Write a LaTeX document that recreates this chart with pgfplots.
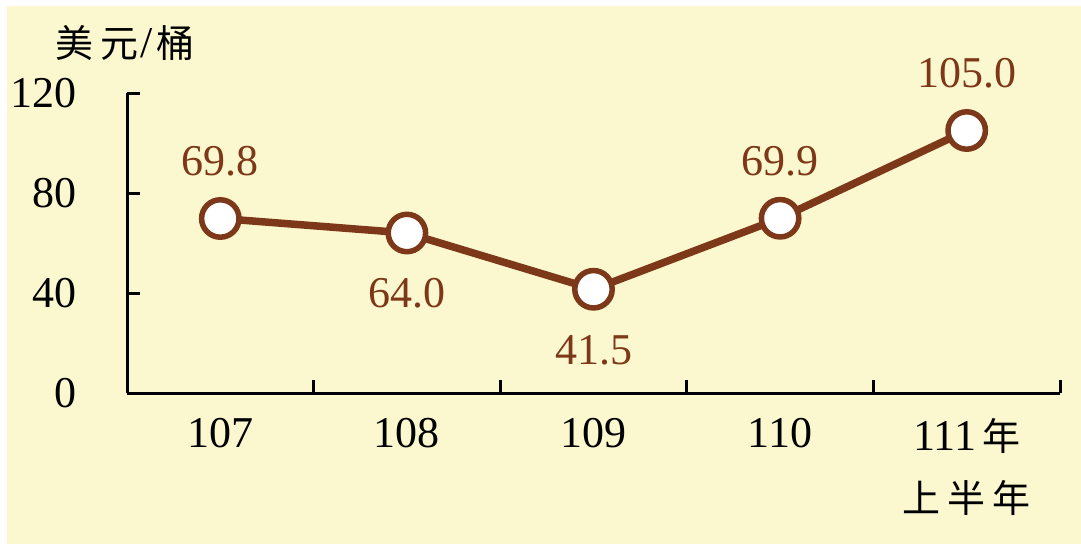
\documentclass[border=0pt]{standalone}
\usepackage{fontspec}
\setmainfont{Liberation Serif}
\newfontfamily\cjkfont[LetterSpace=18]{Noto Sans CJK TC}
\newfontfamily\cjkplain{Noto Sans CJK TC}
\usepackage{pgfplots}
\pgfplotsset{compat=1.18}
\definecolor{bg}{RGB}{251,247,206}
\definecolor{brn}{RGB}{124,56,24}
\newcommand\cjtext[1]{{\cjkfont\fontsize{38bp}{62bp}\selectfont #1}}
\newcommand\cjp[1]{{\cjkplain\fontsize{38bp}{62bp}\selectfont #1}}
\begin{document}
\begin{tikzpicture}[x=1bp,y=1bp]
\useasboundingbox (0,0) rectangle (1081,-544);
\fill[bg] (7,-6) rectangle (1081,-544);
\begin{axis}[
  at={(127bp,-393bp)}, anchor=south west,
  scale only axis, width=933bp, height=300bp,
  xmin=-0.5, xmax=4.5, ymin=0, ymax=120,
  axis lines*=left,
  axis line style={line width=3bp, black},
  tick align=inside,
  xtick pos=left, ytick pos=left,
  ytick={0,40,80,120},
  xtick={0,1,2,3,4},
  xticklabels={107,108,109,110,{111\hspace{6bp}\cjtext{年}\\\cjtext{上半年}}},
  minor xtick={0.5,1.5,2.5,3.5,4.5},
  major tick length=13bp,
  minor tick length=13bp,
  x tick style={draw=none},
  minor x tick style={draw=black, line width=3bp},
  y tick style={draw=black, line width=3bp},
  /pgf/number format/assume math mode=true,
  ticklabel style={font=\fontsize{44bp}{62bp}\selectfont, inner sep=0pt},
  yticklabel style={anchor=east, xshift=-50bp},
  xticklabel style={anchor=north, yshift=-25bp, align=center},
  clip=false,
]
\addplot[brn, line width=7.5bp, mark=*, mark size=18.7bp,
  mark options={fill=white, draw=brn, line width=5.5bp},
  nodes near coords, point meta=explicit symbolic,
  visualization depends on={value \thisrow{dy} \as \dy},
  nodes near coords style={anchor=center, yshift=\dy bp, text=brn,
    font=\fontsize{44bp}{50bp}\selectfont, inner sep=0pt}]
table[x=x, y=y, meta=lab] {
x y lab dy
0 69.8 69.8 57
1 64.0 64.0 -60
2 41.5 41.5 -61
3 69.9 69.9 57
4 105.0 105.0 57
};
\end{axis}
\node[anchor=west, inner sep=0pt, font=\fontsize{44bp}{50bp}\selectfont] at (55,-43) {\cjp{美}\hspace{7bp}\cjp{元}\hspace{2bp}/\hspace{4bp}\cjp{桶}};
\end{tikzpicture}
\end{document}
